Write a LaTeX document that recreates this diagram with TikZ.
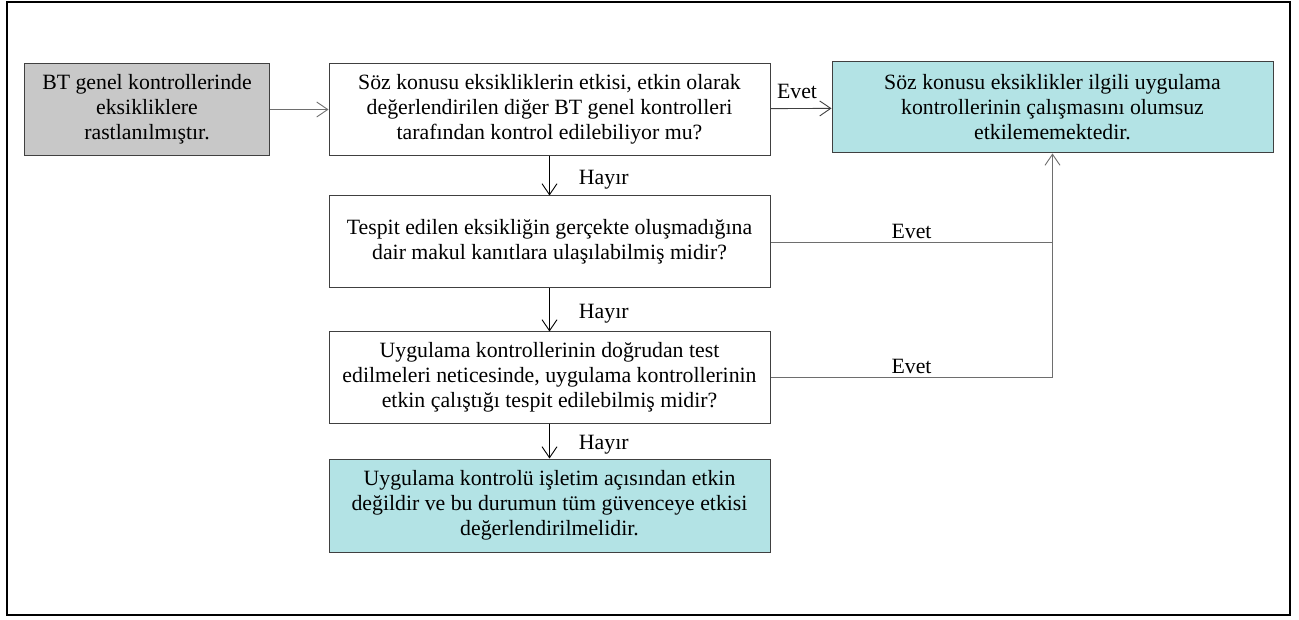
\documentclass[tikz,border=0pt]{standalone}
\usepackage{fontspec}
\setmainfont{Liberation Serif}
\usetikzlibrary{arrows.meta,calc,positioning}
\definecolor{BoxGray}{RGB}{200,200,200}
\definecolor{SoftTeal}{RGB}{179,227,229}
\definecolor{EdgeGray}{RGB}{64,64,64}
\definecolor{LineGray}{RGB}{110,110,110}

\begin{document}
\begin{tikzpicture}[x=1pt,y=-1pt,>={Straight Barb[length=11pt,width=15pt]},
    kutu/.style={draw=EdgeGray,line width=1pt,align=center,inner sep=0pt,
      font=\fontsize{21.8}{25}\selectfont,minimum width=441pt,minimum height=92pt},
    bag/.style={->,line width=0.9pt},
    etiket/.style={font=\fontsize{21.8}{24}\selectfont,inner sep=3pt,text=black},
    hayir/.style={etiket,right,xshift=26pt,yshift=-4pt}]
      \useasboundingbox (0,0) rectangle (1299,620);
      \draw[line width=2pt] (7,2) rectangle (1290,615);
      % kutular
      \node[kutu,fill=BoxGray,minimum width=245pt] (eksik) at (147,109.5)
        {BT genel kontrollerinde\\eksikliklere\\rastlanılmıştır.};
      \node[kutu] (soru1) at (549.5,109.5)
        {Söz konusu eksikliklerin etkisi, etkin olarak\\değerlendirilen diğer BT genel kontrolleri\\tarafından kontrol edilebiliyor mu?};
      \node[kutu,fill=SoftTeal,minimum height=91pt] (olumlu) at (1052.5,107.5)
        {Söz konusu eksiklikler ilgili uygulama\\kontrollerinin çalışmasını olumsuz\\etkilememektedir.};
      \node[kutu] (soru2) at (549.5,242)
        {Tespit edilen eksikliğin gerçekte oluşmadığına\\dair makul kanıtlara ulaşılabilmiş midir?};
      \node[kutu,minimum height=91pt] (soru3) at (549.5,377.5)
        {Uygulama kontrollerinin doğrudan test\\edilmeleri neticesinde, uygulama kontrollerinin\\etkin çalıştığı tespit edilebilmiş midir?};
      \node[kutu,fill=SoftTeal,minimum height=93pt] (olumsuz) at (549.5,505.5)
        {Uygulama kontrolü işletim açısından etkin\\değildir ve bu durumun tüm güvenceye etkisi\\değerlendirilmelidir.};
      % oklar
      \draw[bag,LineGray] (eksik) -- (soru1);
      \draw[bag,EdgeGray] (soru1) -- node[etiket,above=6pt,xshift=-4pt]{Evet} (olumlu);
      \draw[bag] (soru1) -- node[hayir]{Hayır} (soru2);
      \draw[bag] (soru2) -- node[hayir]{Hayır} (soru3);
      \draw[bag] (soru3) -- node[hayir]{Hayır} (olumsuz);
      \draw[line width=0.9pt,LineGray] (soru2.east) --
        node[etiket,above]{Evet} (soru2.east -| olumlu.south);
      \draw[bag,LineGray] (soru3.east) --
        node[etiket,above]{Evet} (soru3.east -| olumlu.south)
        -- (olumlu.south);
    \end{tikzpicture}
\end{document}
